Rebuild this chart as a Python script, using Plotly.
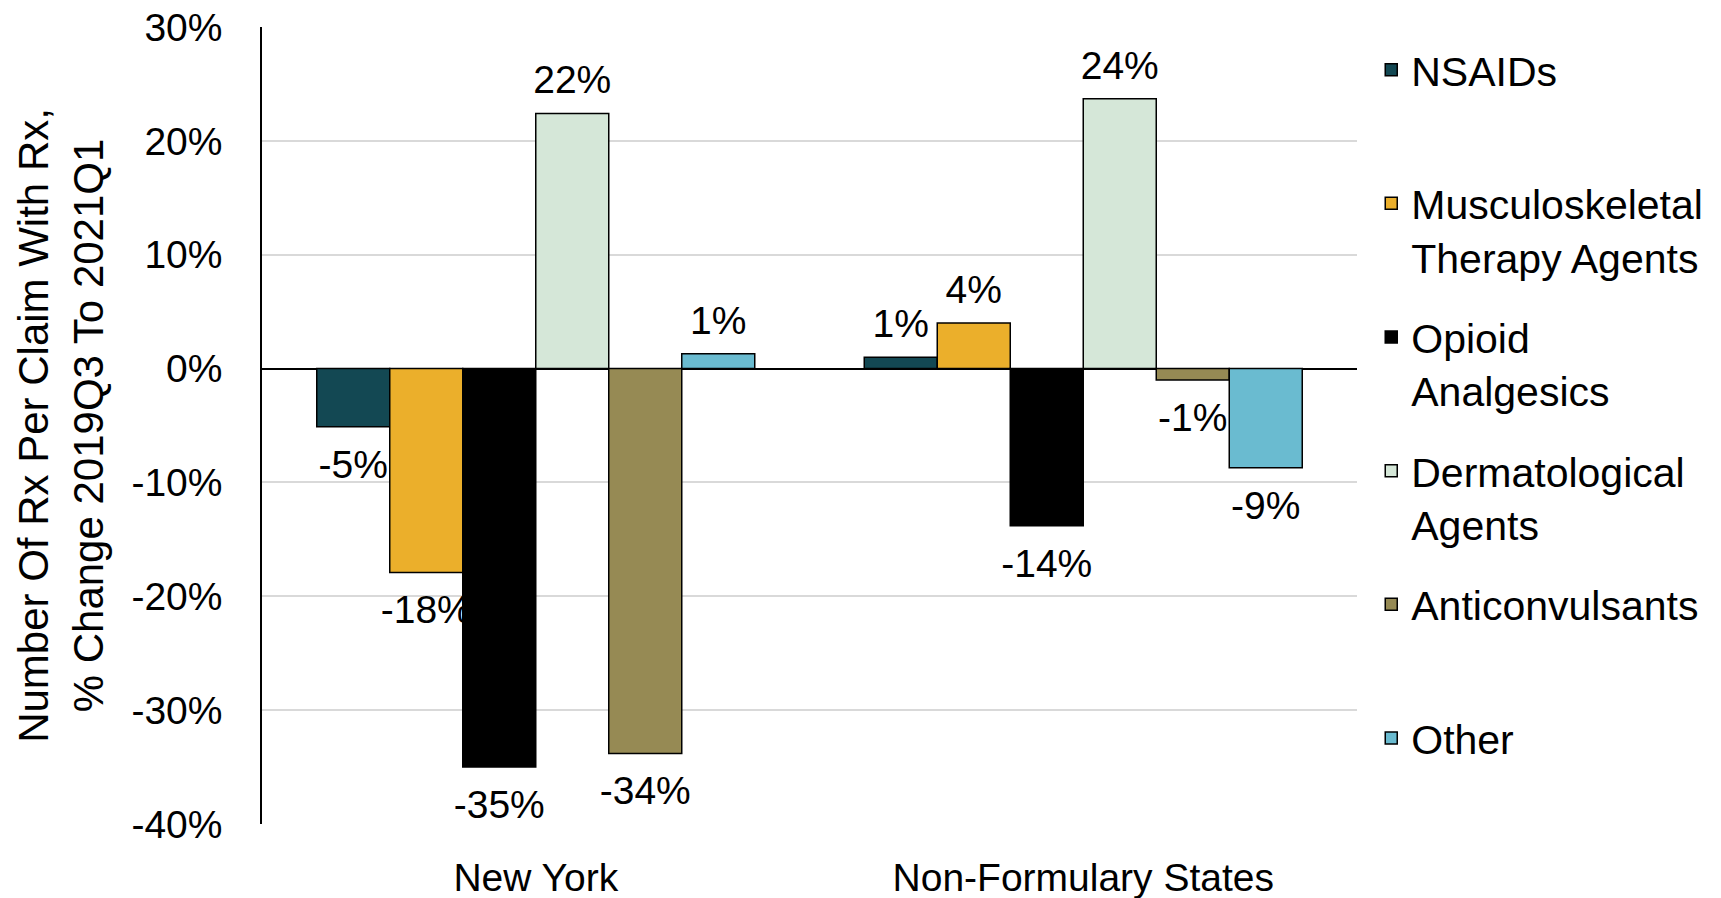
import plotly.graph_objects as go

# Rx per claim with Rx, % change 2019Q3 to 2021Q1, by drug group
regions = ["New York", "Non-Formulary States"]
drug_groups = [
    "NSAIDs",
    "Musculoskeletal<br>Therapy Agents",
    "Opioid<br>Analgesics",
    "Dermatological<br>Agents",
    "Anticonvulsants",
    "Other",
]
nsaids = [-5.1, 1.0]
musculoskeletal = [-17.9, 4.0]
opioids = [-35.0, -13.8]
dermatological = [22.4, 23.7]
anticonvulsants = [-33.8, -1.0]
other = [1.3, -8.7]

series = [nsaids, musculoskeletal, opioids, dermatological, anticonvulsants, other]
colors = ["#134853", "#EBAF2B", "#000000", "#D5E7D8", "#968A54", "#6ABBD0"]

y_ticks = [-40, -30, -20, -10, 0, 10, 20, 30]
y_tick_text = [f"{v}%" for v in y_ticks]

FONT = "Liberation Sans, Arial, sans-serif"
TXT = 39

fig = go.Figure()

legend_names = ["legend"] + [f"legend{i}" for i in range(2, 7)]

for i, (name, vals, col) in enumerate(zip(drug_groups, series, colors)):
    fig.add_trace(go.Bar(
        x=regions, y=vals, name=name,
        marker=dict(color=col, line=dict(color="#000000", width=1.5)),
        offsetgroup=str(i), legend=legend_names[i],
        hoverinfo="x+y",
    ))

# value labels, grouped the same way as the bars
for i, vals in enumerate(series):
    fig.add_trace(go.Scatter(
        x=regions, y=vals, mode="markers+text",
        text=[f"{v:.0f}%" for v in vals],
        textposition=["top center" if v >= 0 else "bottom center" for v in vals],
        textfont=dict(family=FONT, size=TXT, color="#000000"),
        marker=dict(size=[15 if v >= 0 else 33 for v in vals],
                    color="rgba(0,0,0,0)", opacity=0,
                    line=dict(width=0, color="rgba(0,0,0,0)")),
        offsetgroup=str(i), showlegend=False, hoverinfo="skip", cliponaxis=False,
    ))

# one legend box per drug group, evenly stacked down the right side
layout_legends = {}
step = 0.1677
for i, ln in enumerate(legend_names):
    layout_legends[ln] = dict(
        x=1.013, xanchor="left", y=0.988 - i * step, yanchor="top",
        font=dict(family=FONT, size=41, color="#000000"),
        valign="top", bgcolor="rgba(0,0,0,0)", borderwidth=0,
        itemclick=False, itemdoubleclick=False,
    )

fig.update_layout(
    width=1721, height=898, autosize=False,
    margin=dict(l=262, r=364, t=27, b=74),
    paper_bgcolor="#FFFFFF", plot_bgcolor="#FFFFFF",
    barmode="group", bargap=0.2, bargroupgap=0,
    scattermode="group",
    font=dict(family=FONT, size=TXT, color="#000000"),
    showlegend=True,
    **layout_legends,
)

fig.update_xaxes(
    type="category", showgrid=False, showline=False, ticks="",
    tickfont=dict(family=FONT, size=TXT, color="#000000"),
    ticklabelstandoff=27, automargin=False,
)
fig.update_yaxes(
    range=[-40, 30], tickvals=y_ticks, ticktext=y_tick_text,
    showgrid=True, gridcolor="#D9D9D9", gridwidth=2,
    zeroline=True, zerolinecolor="#000000", zerolinewidth=1.5,
    showline=True, linecolor="#000000", linewidth=1.5, ticks="",
    tickfont=dict(family=FONT, size=TXT, color="#000000"),
    ticklabelstandoff=30, automargin=False,
    title=dict(
        text="Number Of Rx Per Claim With Rx,<br>% Change 2019Q3 To 2021Q1",
        font=dict(family=FONT, size=42, color="#000000"),
        standoff=15,
    ),
)

fig.write_html("out.html")
